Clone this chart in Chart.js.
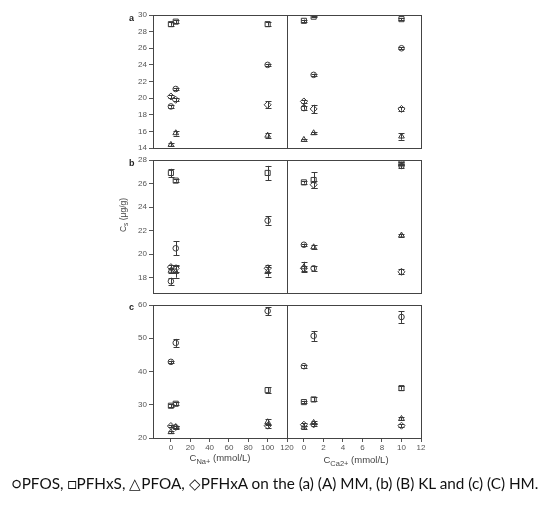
<!DOCTYPE html>
<html>
<head>
<meta charset="utf-8">
<script src="https://cdn.jsdelivr.net/npm/chart.js@4.4.0/dist/chart.umd.min.js"></script>
<style>
  body { margin: 0; background: #fff; width: 550px; height: 513px; position: relative; overflow: hidden; font-family: "Liberation Sans", Arial, sans-serif; }
  canvas { position: absolute; }
  .lbl { position: absolute; font-weight: bold; font-size: 9px; color: #222; line-height: 9px; }
  .xt { position: absolute; font-size: 9.5px; color: #444; transform: translateX(-50%); white-space: nowrap; line-height: 10px; }
  .xt sub { font-size: 7.5px; vertical-align: -3px; line-height: 0; }
  .yt { position: absolute; left: 123px; top: 215px; font-size: 8.5px; color: #444; white-space: nowrap; transform: translate(-50%, -50%) rotate(-90deg); }
  .yt sub { font-size: 6.5px; vertical-align: -2px; line-height: 0; }
  .cap { position: absolute; left: 0; top: 474px; width: 550px; text-align: center; font-family: Lato, sans-serif; font-size: 15.3px; color: #111; white-space: nowrap; }
</style>
</head>
<body>
<canvas id="aNa" width="200" height="153" style="left:100px;top:5px"></canvas>
<canvas id="aCa" width="150" height="153" style="left:280px;top:5px"></canvas>
<canvas id="bNa" width="200" height="153" style="left:100px;top:150px"></canvas>
<canvas id="bCa" width="150" height="153" style="left:280px;top:150px"></canvas>
<canvas id="cNa" width="200" height="173" style="left:100px;top:295px"></canvas>
<canvas id="cCa" width="150" height="173" style="left:280px;top:295px"></canvas>

<div class="lbl" style="left:129px;top:14px">a</div>
<div class="lbl" style="left:129px;top:159px">b</div>
<div class="lbl" style="left:129px;top:303px">c</div>
<div class="yt">C<sub>s</sub> (μg/g)</div>
<div class="xt" style="left:220px;top:453px">C<sub>Na+</sub> (mmol/L)</div>
<div class="xt" style="left:356px;top:455px">C<sub>Ca2+</sub> (mmol/L)</div>
<div class="cap">○PFOS, □PFHxS, △PFOA, ◇PFHxA on the (a) (A) MM, (b) (B) KL and (c) (C) HM.</div>

<script>
const naConc = [0, 5, 100];
const caConc = [0, 1, 10];
const compounds = ['PFOS', 'PFHxS', 'PFOA', 'PFHxA'];

// Cs values (μg/g), one row per compound in the order above
const mmNa = [[19.0, 21.1, 24.0], [28.9, 29.2, 28.9], [14.4, 15.8, 15.5], [20.2, 19.8, 19.2]];
const mmNaErr = [[0.15, 0.15, 0.15], [0.2, 0.2, 0.2], [0.2, 0.3, 0.3], [0.2, 0.2, 0.4]];
const mmCa = [[18.8, 22.8, 26.0], [29.3, 29.8, 29.5], [15.0, 15.8, 15.4], [19.6, 18.7, 18.7]];
const mmCaErr = [[0.2, 0.15, 0.1], [0.15, 0.1, 0.15], [0.1, 0.15, 0.4], [0.2, 0.5, 0.2]];

const klNa = [[17.7, 20.5, 22.85], [26.9, 26.25, 26.9], [18.6, 18.5, 18.5], [18.9, 18.8, 18.8]];
const klNaErr = [[0.3, 0.6, 0.35], [0.35, 0.1, 0.6], [0.2, 0.5, 0.4], [0.2, 0.3, 0.3]];
const klCa = [[20.8, 18.8, 27.5], [26.1, 26.3, 27.7], [18.9, 20.6, 21.6], [18.8, 25.9, 18.5]];
const klCaErr = [[0.1, 0.2, 0.2], [0.1, 0.65, 0.15], [0.45, 0.15, 0.15], [0.2, 0.3, 0.2]];

const hmNa = [[42.9, 48.6, 58.2], [29.7, 30.3, 34.4], [21.8, 23.2, 24.8], [23.6, 23.3, 23.7]];
const hmNaErr = [[0.4, 1.2, 1.2], [0.4, 0.4, 0.8], [0.4, 0.4, 0.8], [0.4, 0.4, 0.6]];
const hmCa = [[41.6, 50.7, 56.4], [30.8, 31.6, 35.0], [23.2, 24.6, 25.8], [24.0, 24.1, 23.7]];
const hmCaErr = [[0.4, 1.5, 1.8], [0.4, 0.6, 0.5], [0.5, 0.4, 0.5], [0.4, 0.5, 0.5]];

const ticksA = [14, 16, 18, 20, 22, 24, 26, 28, 30];
const ticksB = [18, 20, 22, 24, 26, 28];
const ticksC = [20, 30, 40, 50, 60];
const naTicks = [0, 20, 40, 60, 80, 100, 120];
const caTicks = [0, 2, 4, 6, 8, 10, 12];

const markers = ['circle', 'rect', 'triangle', 'rectRot'];
const markerSize = [2.8, 3.6, 3.3, 3.5];
const ink = '#3a3a3a';

// box round the plot area
const frame = {
  id: 'frame',
  afterDraw(chart) {
    const a = chart.chartArea, ctx = chart.ctx;
    ctx.save();
    ctx.strokeStyle = '#444';
    ctx.lineWidth = 1;
    ctx.strokeRect(Math.round(a.left) + 0.5, Math.round(a.top) + 0.5, Math.round(a.right - a.left), Math.round(a.bottom - a.top));
    ctx.restore();
  }
};

// vertical error bars with caps
const errorBars = {
  id: 'errorBars',
  afterDatasetsDraw(chart) {
    const ctx = chart.ctx, y = chart.scales.y;
    ctx.save();
    ctx.strokeStyle = ink;
    ctx.lineWidth = 1;
    chart.data.datasets.forEach((ds, k) => {
      chart.getDatasetMeta(k).data.forEach((pt, i) => {
        const v = ds.data[i].y, e = ds.errors[i];
        const top = y.getPixelForValue(v + e), bot = y.getPixelForValue(v - e);
        const x = Math.round(pt.x) + 0.5;
        ctx.beginPath();
        ctx.moveTo(x, top); ctx.lineTo(x, bot);
        ctx.moveTo(x - 3, Math.round(top) + 0.5); ctx.lineTo(x + 3, Math.round(top) + 0.5);
        ctx.moveTo(x - 3, Math.round(bot) + 0.5); ctx.lineTo(x + 3, Math.round(bot) + 0.5);
        ctx.stroke();
      });
    });
    ctx.restore();
  }
};

function panel(id, xs, vals, errs, yMin, yMax, yTicks, xMin, xMax, xTicks, leftCol, bottomRow) {
  new Chart(document.getElementById(id), {
    type: 'scatter',
    data: {
      datasets: compounds.map((name, k) => ({
        label: name,
        data: xs.map((x, i) => ({ x: x, y: vals[k][i] })),
        errors: errs[k],
        pointStyle: markers[k],
        pointRadius: markerSize[k],
        pointBorderColor: ink,
        pointBackgroundColor: 'rgba(255,255,255,0)',
        pointBorderWidth: 1
      }))
    },
    options: {
      responsive: false,
      animation: false,
      events: [],
      layout: { padding: { top: 10, bottom: 10, left: leftCol ? 0 : 7, right: leftCol ? 13 : 9 } },
      plugins: { legend: { display: false }, tooltip: { enabled: false } },
      scales: {
        x: {
          type: 'linear', min: xMin, max: xMax, display: bottomRow,
          afterBuildTicks: s => { s.ticks = xTicks.map(v => ({ value: v })); },
          afterFit: s => { s.height = bottomRow ? 20 : 0; },
          grid: { drawOnChartArea: false, tickLength: 4, color: '#555' },
          border: { display: false },
          ticks: { font: { size: 8, family: 'Liberation Sans' }, color: '#555', padding: 1, maxRotation: 0, autoSkip: false }
        },
        y: {
          min: yMin, max: yMax, display: leftCol,
          afterBuildTicks: s => { s.ticks = yTicks.map(v => ({ value: v })); },
          afterFit: s => { s.width = leftCol ? 53 : 0; },
          grid: { drawOnChartArea: false, tickLength: 4, color: '#555' },
          border: { display: false },
          ticks: { font: { size: 8, family: 'Liberation Sans' }, color: '#555', padding: 2 }
        }
      }
    },
    plugins: [frame, errorBars]
  });
}

panel('aNa', naConc, mmNa, mmNaErr, 14, 30, ticksA, -18.5, 120, naTicks, true, false);
panel('aCa', caConc, mmCa, mmCaErr, 14, 30, ticksA, -1.73, 12, caTicks, false, false);
panel('bNa', naConc, klNa, klNaErr, 16.7, 28, ticksB, -18.5, 120, naTicks, true, false);
panel('bCa', caConc, klCa, klCaErr, 16.7, 28, ticksB, -1.73, 12, caTicks, false, false);
panel('cNa', naConc, hmNa, hmNaErr, 20, 60, ticksC, -18.5, 120, naTicks, true, true);
panel('cCa', caConc, hmCa, hmCaErr, 20, 60, ticksC, -1.73, 12, caTicks, false, true);
</script>
</body>
</html>
